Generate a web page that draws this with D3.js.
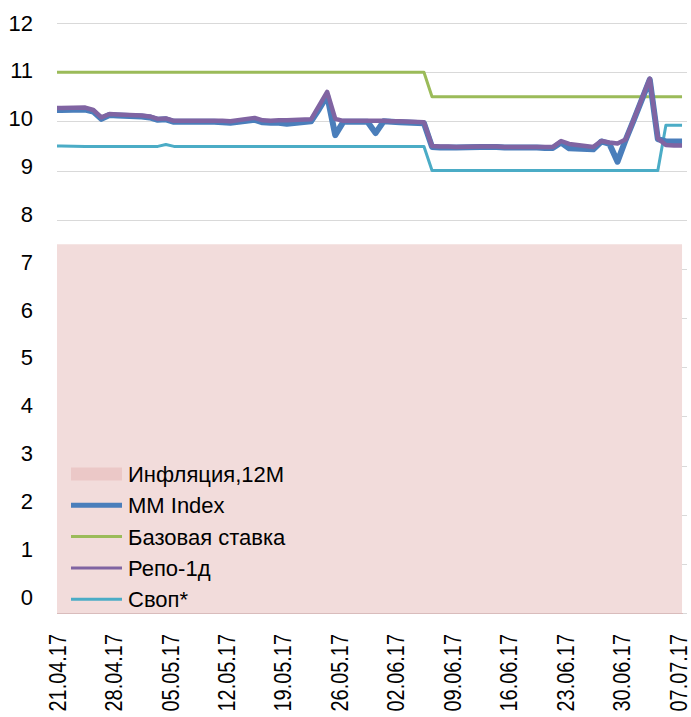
<!DOCTYPE html>
<html>
<head>
<meta charset="utf-8">
<script src="https://cdn.jsdelivr.net/npm/d3@7"></script>
<style>
  html, body { margin: 0; padding: 0; background: #ffffff; }
  svg { display: block; }
  text { font-family: "Liberation Sans", Arial, sans-serif; fill: #000; }
</style>
</head>
<body>
<svg id="chart" width="691" height="717"></svg>
<script>
// ---- DATA ----
const dates = ["20.04","21.04","24.04","25.04","26.04","27.04","28.04",
  "01.05","02.05","03.05","04.05","05.05","08.05","09.05","10.05","11.05","12.05",
  "15.05","16.05","17.05","18.05","19.05","22.05","23.05","24.05","25.05","26.05",
  "29.05","30.05","31.05","01.06","02.06","05.06","06.06","07.06","08.06","09.06",
  "12.06","13.06","14.06","15.06","16.06","19.06","20.06","21.06","22.06","23.06",
  "26.06","27.06","28.06","29.06","30.06","01.07","03.07","04.07","05.07","06.07","07.07"];

const mmIndex = [10.23,10.23,10.24,10.20,10.05,10.13,10.12,
  10.10,10.08,10.03,10.04,9.99,9.99,9.99,9.99,9.98,9.97,
  10.03,9.98,9.97,9.97,9.95,10.00,10.25,10.52,9.72,9.99,
  9.99,9.76,10.00,9.99,9.98,9.96,9.48,9.47,9.47,9.47,
  9.48,9.48,9.48,9.47,9.47,9.47,9.46,9.46,9.57,9.45,
  9.43,9.59,9.54,9.18,9.62,10.02,10.85,9.64,9.59,9.59,9.59];

const repo = [10.27,10.27,10.28,10.23,10.08,10.15,10.14,
  10.12,10.10,10.05,10.06,10.01,10.01,10.01,10.01,10.01,10.00,
  10.07,10.02,10.01,10.02,10.02,10.04,10.32,10.60,10.05,10.01,
  10.01,10.01,10.01,10.00,10.00,9.98,9.50,9.49,9.49,9.48,
  9.49,9.49,9.49,9.48,9.48,9.48,9.48,9.48,9.60,9.54,
  9.48,9.60,9.57,9.55,9.63,10.03,10.87,9.65,9.52,9.51,9.51];

const baseRate = [11,11,11,11,11,11,11,
  11,11,11,11,11,11,11,11,11,11,
  11,11,11,11,11,11,11,11,11,11,
  11,11,11,11,11,11,10.5,10.5,10.5,10.5,
  10.5,10.5,10.5,10.5,10.5,10.5,10.5,10.5,10.5,10.5,
  10.5,10.5,10.5,10.5,10.5,10.5,10.5,10.5,10.5,10.5,10.5];

const swap = [9.50,9.50,9.49,9.49,9.49,9.49,9.49,
  9.49,9.49,9.49,9.53,9.49,9.49,9.49,9.49,9.49,9.49,
  9.49,9.49,9.49,9.49,9.49,9.49,9.49,9.49,9.49,9.49,
  9.49,9.49,9.49,9.49,9.49,9.49,9.00,9.00,9.00,9.00,
  9.00,9.00,9.00,9.00,9.00,9.00,9.00,9.00,9.00,9.00,
  9.00,9.00,9.00,9.00,9.00,9.00,9.00,9.00,9.92,9.92,9.92];

const inflation = dates.map(() => 7.5);

const xTickLabels = ["21.04.17","28.04.17","05.05.17","12.05.17","19.05.17","26.05.17",
  "02.06.17","09.06.17","16.06.17","23.06.17","30.06.17","07.07.17"];
const yTickValues = [0,1,2,3,4,5,6,7,8,9,10,11,12];

const legendItems = [
  {name: "Инфляция,12M", type: "area"},
  {name: "MM Index", type: "mm"},
  {name: "Базовая ставка", type: "base"},
  {name: "Репо-1д", type: "repo"},
  {name: "Своп*", type: "swap"}
];

// ---- STYLES ----
const colors = {
  area: "#f2dcdb", areaSwatch: "#ebc8c7", mm: "#4a7ebb", base: "#9bbb59",
  repo: "#8064a2", swap: "#4bacc6", grid: "#d9d9d9", axis: "#d9bcbc"
};

// ---- SCALES ----
const parseD = s => { const [d, m] = s.split(".").map(Number); return new Date(2017, m - 1, d); };
const parseLbl = s => { const [d, m, y] = s.split(".").map(Number); return new Date(2000 + y, m - 1, d); };
const dts = dates.map(parseD);

const plot = {left: 57, right: 682, top: 23, bottom: 613};
const x = d3.scaleTime().domain([new Date(2017,3,21), new Date(2017,6,7)]).range([57, 678]);
const xp = d => x(d3.timeHour.offset(d, 12));
const y = d3.scaleLinear().domain([0, 12]).range([613, 23]);
const yLbl = d3.scaleLinear().domain([0, 12]).range([597, 23]);

const svg = d3.select("#chart");

svg.append("defs").append("clipPath").attr("id", "clip")
  .append("rect").attr("x", plot.left).attr("y", 0)
  .attr("width", plot.right - plot.left + 1).attr("height", plot.bottom);

// gridlines
svg.append("g").selectAll("line").data(yTickValues).join("line")
  .attr("x1", plot.left).attr("x2", 687)
  .attr("y1", d => Math.round(y(d)) + 0.5).attr("y2", d => Math.round(y(d)) + 0.5)
  .attr("stroke", colors.grid).attr("stroke-width", 1);

const series = dts.map((d, i) => ({d, mm: mmIndex[i], repo: repo[i], base: baseRate[i], swap: swap[i], inf: inflation[i]}));

const g = svg.append("g").attr("clip-path", "url(#clip)");

// inflation area
g.append("path").datum(series)
  .attr("d", d3.area().x(d => xp(d.d)).y0(y(0)).y1(d => y(d.inf)))
  .attr("fill", colors.area);

// axis base line
svg.append("line").attr("x1", plot.left).attr("x2", plot.right + 1)
  .attr("y1", 613.5).attr("y2", 613.5).attr("stroke", colors.axis).attr("stroke-width", 1);

const lineFor = key => d3.line().x(d => xp(d.d)).y(d => y(d[key]));

g.append("path").datum(series).attr("d", lineFor("base"))
  .attr("fill", "none").attr("stroke", colors.base).attr("stroke-width", 3).attr("stroke-linejoin", "round");
g.append("path").datum(series).attr("d", lineFor("swap"))
  .attr("fill", "none").attr("stroke", colors.swap).attr("stroke-width", 3).attr("stroke-linejoin", "round");
g.append("path").datum(series).attr("d", lineFor("mm"))
  .attr("fill", "none").attr("stroke", colors.mm).attr("stroke-width", 6).attr("stroke-linejoin", "round");
g.append("path").datum(series).attr("d", lineFor("repo"))
  .attr("fill", "none").attr("stroke", colors.repo).attr("stroke-width", 4.5).attr("stroke-linejoin", "round");

// y axis labels
const yAxis = d3.axisLeft(yLbl).tickValues(yTickValues).tickSize(0).tickPadding(0).tickFormat(d3.format("d"));
const ya = svg.append("g").attr("transform", "translate(33,0)").call(yAxis);
ya.select(".domain").remove();
ya.selectAll("text").attr("font-size", 22).attr("font-family", "Liberation Sans, Arial, sans-serif").attr("fill", "#000");

// x axis labels
svg.append("g").selectAll("text").data(xTickLabels).join("text")
  .attr("transform", d => `translate(${x(parseLbl(d))},634) rotate(-90) scale(0.83,1)`)
  .attr("text-anchor", "end").attr("dy", "0.36em")
  .attr("font-size", 24).text(d => d);

// legend
const lg = svg.append("g");
const rowY = i => 474 + i * 31.3;
legendItems.forEach((it, i) => {
  const cy = rowY(i);
  if (it.type === "area") {
    lg.append("rect").attr("x", 71).attr("y", cy - 6.5).attr("width", 51).attr("height", 13).attr("fill", colors.areaSwatch);
  } else {
    lg.append("line").attr("x1", 71).attr("x2", 122).attr("y1", cy).attr("y2", cy)
      .attr("stroke", colors[it.type]).attr("stroke-width", it.type === "mm" ? 5 : 3);
  }
  lg.append("text").attr("x", 128).attr("y", cy).attr("dy", "0.36em").attr("font-size", 22).text(it.name);
});
</script>
</body>
</html>
